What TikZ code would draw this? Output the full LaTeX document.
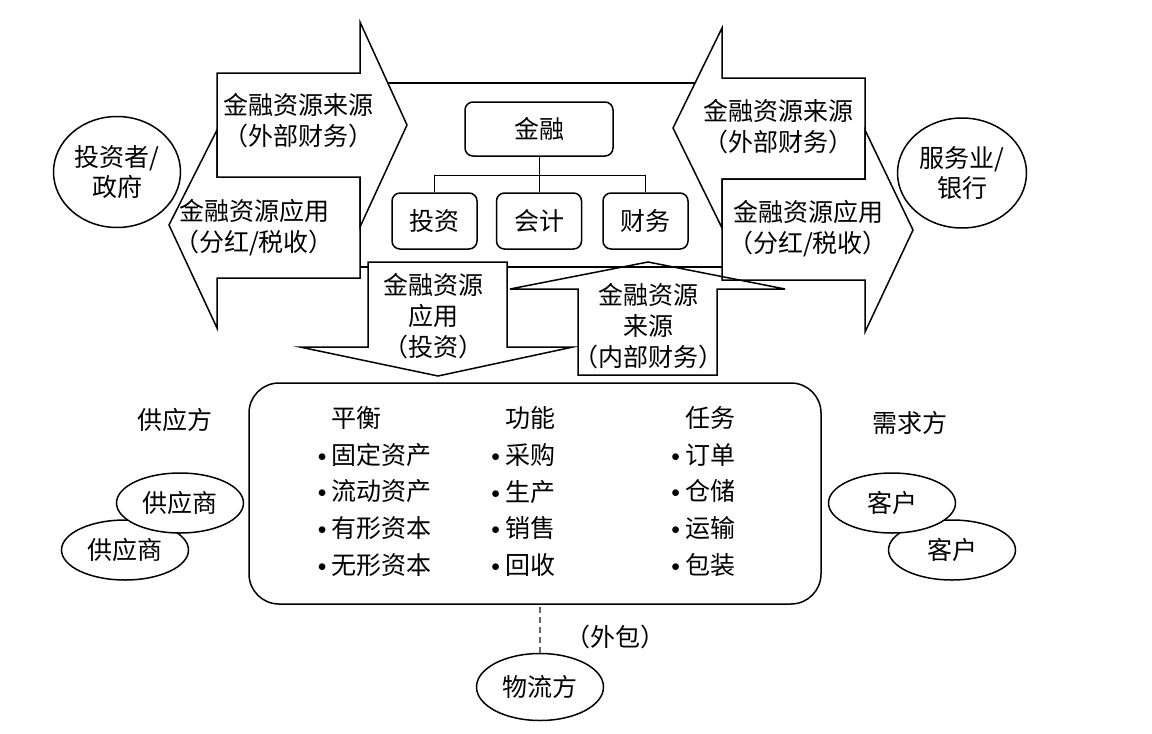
\documentclass[tikz,border=0pt]{standalone}
\usepackage{fontspec}
\setmainfont{Noto Sans CJK SC}
\usetikzlibrary{shapes.geometric,positioning}
\tikzstyle{bigarrow} = [draw,line width=1.5pt,fill=white,line join=miter]
\tikzstyle{subbox} = [draw,line width=1.5pt,rectangle,rounded corners=8pt,inner sep=0,minimum width=85pt,minimum height=56pt,font=\fontsize{25}{31}\selectfont]
\tikzstyle{party} = [draw,line width=1.5pt,ellipse,fill=white,inner sep=0,minimum width=127pt,minimum height=60pt,align=center,font=\fontsize{25}{30}\selectfont]
\tikzstyle{arrowtext} = [align=center,inner sep=0,font=\fontsize{25}{31}\selectfont]
\tikzstyle{itemlist} = [align=left,inner sep=0,font=\fontsize{25}{36.7}\selectfont]
\tikzstyle{branch} = [-,line width=.8pt]
\def\itm{\llap{\raisebox{3pt}{$\scriptstyle\bullet$}\hspace{5pt}}}

\begin{document}
\begin{tikzpicture}[x=1pt,y=-1pt]
      \useasboundingbox (0,0) rectangle (1152,734);
      \draw[line width=1.5pt] (300,83) rectangle (790,267);
      \node[subbox,minimum width=148pt,minimum height=54pt] (fin) at (539,129) {金融};
      \node[subbox] (invest) at (434.5,221) {投资};
      \node[subbox] (acct) at (539,221) {会计};
      \node[subbox] (treas) at (645.5,221) {财务};
      \draw[branch] (fin.south) -- (acct.north);
      \draw[branch] (fin.south) -- ++(0,19) -| (invest.north);
      \draw[branch] (fin.south) -- ++(0,19) -| (treas.north);
      \draw[bigarrow] (360,177) -- (217,177) -- (217,130) -- (169,225) -- (217,328) -- (217,278) -- (360,278) -- cycle;
      \draw[bigarrow] (217,73) -- (360,73) -- (360,22) -- (407,125) -- (360,227) -- (360,177) -- (217,177) -- cycle;
      \draw[bigarrow] (865,78) -- (722,78) -- (722,28) -- (673,128) -- (722,228) -- (722,179) -- (865,179) -- cycle;
      \draw[bigarrow] (722,179) -- (865,179) -- (865,130) -- (913,230) -- (865,332) -- (865,280) -- (722,280) -- cycle;
      \draw[bigarrow] (368,262) -- (507,262) -- (507,347) -- (573,347) -- (438,376) -- (300,347) -- (368,347) -- cycle;
      \draw[bigarrow,fill=none] (578,375) -- (578,289) -- (510,289) -- (648,262) -- (785,289) -- (717,289) -- (717,375) -- cycle;
      \node[arrowtext] (srcL) at (298,121) {金融资源来源\\（外部财务）};
      \node[arrowtext] (useL) at (254,228) {金融资源应用\\（分红/税收）};
      \node[arrowtext] (srcR) at (778,127) {金融资源来源\\（外部财务）};
      \node[arrowtext] (useR) at (808,229) {金融资源应用\\（分红/税收）};
      \node[arrowtext] (useD) at (433,316) {金融资源\\应用\\（投资）};
      \node[arrowtext] (srcU) at (648,326) {金融资源\\来源\\（内部财务）};
      \node[party,minimum height=111pt] (inv) at (117,172) {投资者/\\政府};
      \node[party,minimum width=129pt,minimum height=110pt] (bank) at (962,173) {服务业/\\银行};
      \node[draw,line width=1.5pt,rounded corners=30pt,minimum width=572pt,minimum height=221pt] (ops) at (535,493.5) {};
      \node[itemlist] (balance) at (381.5,491.5) {平衡\\\itm 固定资产\\\itm 流动资产\\\itm 有形资本\\\itm 无形资本};
      \node[itemlist] (func) at (530,491.5) {功能\\\itm 采购\\\itm 生产\\\itm 销售\\\itm 回收};
      \node[itemlist] (task) at (710,491.5) {任务\\\itm 订单\\\itm 仓储\\\itm 运输\\\itm 包装};
      \node[arrowtext] (supply) at (175,420) {供应方};
      \node[party] (sup2) at (125,550) {供应商};
      \node[party] (sup1) at (180,503) {供应商};
      \node[arrowtext] (demand) at (910,423) {需求方};
      \node[party] (cust2) at (952,550) {客户};
      \node[party] (cust1) at (892,503) {客户};
      \node[party,minimum height=67pt] (logi) at (540,687) {物流方};
      \draw[dashed,dash pattern=on 6pt off 4pt,black!60,line width=1.4pt] (logi.north) -- (logi.north |- ops.south);
      \node[arrowtext] (outsrc) at (615,637) {（外包）};
    \end{tikzpicture}
\end{document}
